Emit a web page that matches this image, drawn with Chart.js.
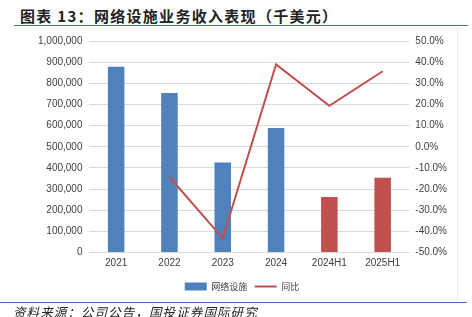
<!DOCTYPE html>
<html>
<head>
<meta charset="utf-8">
<script src="https://cdn.jsdelivr.net/npm/chart.js@4"></script>
<style>
    body { margin: 0; background: #fff; }
    #wrap { position: relative; width: 472px; height: 317px; overflow: hidden; }
    #titulo {
        position: absolute; left: 20px; top: 5px;
        font: bold 15px "Noto Sans CJK SC", sans-serif; color: #222;
        letter-spacing: 1.3px; white-space: nowrap;
    }
    #linhaTopo { position: absolute; left: 14px; top: 25px; width: 454px; height: 0; border-top: 1.5px solid #4472c4; }
    #linhaBase { position: absolute; left: 0; top: 302px; width: 467px; height: 0; border-top: 1.5px solid #4472c4; }
    #moldura { position: absolute; left: 457px; top: 28px; width: 0; height: 273px; border-left: 1px solid #ececec; }
    #fonte {
        position: absolute; left: 13px; top: 302px;
        font: italic 12.5px "Noto Sans CJK SC", sans-serif; color: #222;
        letter-spacing: 1.1px; white-space: nowrap;
    }
    #grafico { position: absolute; left: 0; top: 28px; }
</style>
</head>
<body>
<div id="wrap">
    <div id="titulo">图表 13：网络设施业务收入表现（千美元）</div>
    <div id="linhaTopo"></div>
    <div id="moldura"></div>
    <canvas id="grafico" width="456" height="278"></canvas>
    <div id="linhaBase"></div>
    <div id="fonte">资料来源：公司公告，国投证券国际研究</div>
</div>
<script>
const categorias = ["2021", "2022", "2023", "2024", "2024H1", "2025H1"];
const receita = [878000, 754000, 425000, 589000, 262000, 354000];
const yoy = [null, -14.3, -43.3, 38.9, 19.4, 35.7];
const nomeBarra = "网络设施";
const nomeLinha = "同比";

const azul = "#4f81bd";
const vermelho = "#c0504d";
const coresBarras = receita.map((v, i) => (i < 4 ? azul : vermelho));

const fonteEixo = { family: "'Liberation Sans', Arial, sans-serif", size: 10 };

const ctx = document.getElementById("grafico").getContext("2d");
new Chart(ctx, {
    data: {
        labels: categorias,
        datasets: [
            {
                type: "line",
                label: nomeLinha,
                data: yoy,
                yAxisID: "y1",
                borderColor: vermelho,
                backgroundColor: vermelho,
                borderWidth: 2,
                pointRadius: 0,
                pointStyle: "line",
                tension: 0,
                order: 0,
            },
            {
                type: "bar",
                label: nomeBarra,
                data: receita,
                yAxisID: "y",
                backgroundColor: coresBarras,
                borderWidth: 0,
                barPercentage: 0.31,
                categoryPercentage: 1,
                pointStyle: "rect",
                order: 1,
            },
        ],
    },
    options: {
        responsive: false,
        animation: false,
        layout: { padding: { left: 31, right: 3, top: 5, bottom: 5 } },
        scales: {
            x: {
                grid: { display: false, drawTicks: false },
                border: { display: false },
                ticks: { color: "#404040", font: fonteEixo, padding: 5 },
            },
            y: {
                position: "left",
                min: 0,
                max: 1000000,
                ticks: {
                    stepSize: 100000,
                    color: "#404040",
                    font: fonteEixo,
                    padding: 7,
                    callback: (v) => v.toLocaleString("en-US"),
                },
                grid: { color: "#d9d9d9", drawTicks: false },
                border: { display: false },
            },
            y1: {
                position: "right",
                min: -50,
                max: 50,
                ticks: {
                    stepSize: 10,
                    color: "#404040",
                    font: fonteEixo,
                    padding: 6,
                    callback: (v) => v.toFixed(1) + "%",
                },
                grid: { drawOnChartArea: false, drawTicks: false },
                border: { display: false },
            },
        },
        plugins: {
            tooltip: { enabled: false },
            legend: {
                position: "bottom",
                reverse: true,
                labels: {
                    usePointStyle: true,
                    pointStyleWidth: 22,
                    boxHeight: 8,
                    padding: 7.5,
                    color: "#404040",
                    font: { family: "'Noto Sans CJK SC', sans-serif", size: 9 },
                },
            },
        },
    },
});
</script>
</body>
</html>
